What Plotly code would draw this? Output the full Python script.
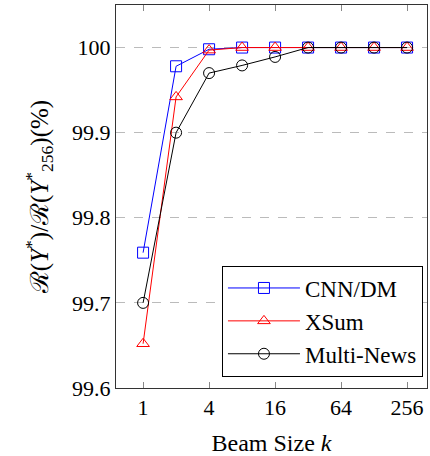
import plotly.graph_objects as go

beam_k = [1, 2, 4, 8, 16, 32, 64, 128, 256]
cnndm = [99.759, 99.978, 99.998, 100, 100, 100, 100, 100, 100]
xsum = [99.652, 99.942, 99.997, 100, 100, 100, 100, 100, 100]
multinews = [99.70, 99.90, 99.970, 99.979, 99.989, 100, 100, 100, 100]
x_ticks = [1, 4, 16, 64, 256]
y_ticks = [99.6, 99.7, 99.8, 99.9, 100]

FONT = "Liberation Serif, Times New Roman, serif"

fig = go.Figure()
series = [
    ("CNN/DM", cnndm, "blue", "square-open"),
    ("XSum", xsum, "red", "triangle-up-open"),
    ("Multi-News", multinews, "black", "circle-open"),
]
for name, vals, col, sym in series:
    fig.add_trace(go.Scatter(
        x=beam_k, y=vals, name=name, mode="lines+markers",
        line=dict(color=col, width=1),
        marker=dict(symbol=sym, size=11, color=col, line=dict(width=1, color=col)),
    ))

fig.update_layout(
    width=430, height=456,
    margin=dict(l=116, r=3, t=5, b=68),
    plot_bgcolor="white", paper_bgcolor="white",
    font=dict(family=FONT, size=22, color="black"),
    showlegend=True,
    legend=dict(
        x=0.987, y=0.03, xanchor="right", yanchor="bottom",
        bordercolor="black", borderwidth=1, bgcolor="white",
        font=dict(family=FONT, size=23),
        itemwidth=72, tracegroupgap=0,
    ),
)
fig.update_xaxes(
    type="log", range=[-0.247, 2.59],
    tickvals=x_ticks, ticktext=[str(v) for v in x_ticks],
    ticks="inside", ticklen=6, tickcolor="#888", tickwidth=1,
    showgrid=False, zeroline=False,
    showline=True, linecolor="#333", linewidth=1, mirror="ticks",
    title=dict(text="Beam Size <i>k</i>", font=dict(family=FONT, size=24), standoff=16),
    tickfont=dict(family=FONT, size=22),
)
fig.update_yaxes(
    range=[99.6, 100.05],
    tickvals=y_ticks, ticktext=["99.6", "99.7", "99.8", "99.9", "100"],
    ticks="", showgrid=True, gridcolor="#bbbbbb", griddash="dash", gridwidth=1,
    zeroline=False,
    showline=True, linecolor="#333", linewidth=1, mirror=True,
    title=dict(text="ℛ(<i>Y</i><sup>*</sup>)/ℛ(<i>Y</i><sup>*</sup><sub>256</sub>)(%)",
               font=dict(family=FONT, size=25), standoff=16),
    tickfont=dict(family=FONT, size=22),
)

fig.write_html("out.html", config={"displayModeBar": False},
               post_script="document.body.style.margin='0';")
